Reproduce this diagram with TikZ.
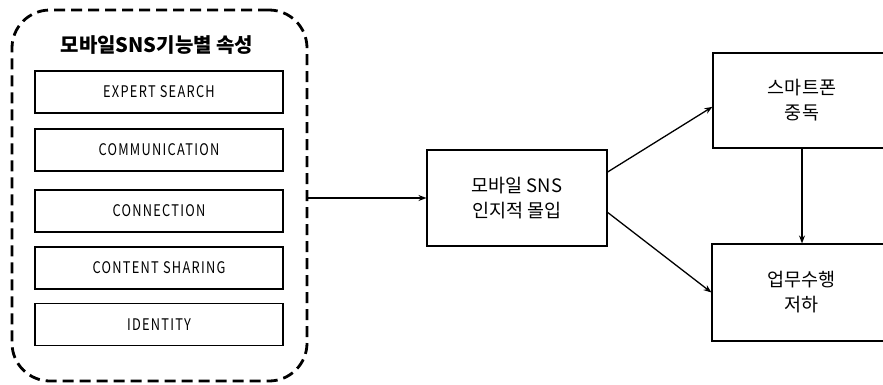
\documentclass[tikz,border=0pt]{standalone}
\usepackage{fontspec}
\setmainfont{Noto Sans CJK KR}
\newfontfamily\engfont[FakeStretch=0.8,LetterSpace=8]{Noto Sans CJK KR}
\usetikzlibrary{arrows.meta}
\begin{document}
\begin{tikzpicture}[x=1pt,y=-1pt,
  attrbox/.style={draw=black,line width=1.1pt,minimum width=248pt,minimum height=42pt,inner sep=0pt,font=\engfont\fontsize{16}{18}\selectfont},
  mainbox/.style={draw=black,line width=1.1pt,inner sep=0pt,align=center,font=\fontsize{18.5}{25}\selectfont},
  arr/.style={line width=1.3pt,-{Stealth[length=8pt,width=6pt]}},
  group/.style={draw=black,line width=2.8pt,dash pattern=on 11pt off 6pt,rounded corners=38pt,minimum width=295pt,minimum height=371pt,inner sep=0pt}
]
\clip (0,0) rectangle (883,384);
\fill[white] (0,0) rectangle (883,384);
\node[group] (grp) at (159.5,195.5) {};
\node[font=\bfseries\fontsize{20}{24}\selectfont] (title) at (157,45) {모바일SNS기능별 속성};
\node[attrbox] (a1) at (159,92) {EXPERT SEARCH};
\node[attrbox] (a2) at (159,150) {COMMUNICATION};
\node[attrbox] (a3) at (159,211) {CONNECTION};
\node[attrbox] (a4) at (159,268) {CONTENT SHARING};
\node[attrbox] (a5) at (159,324.5) {IDENTITY};
\node[mainbox,minimum width=180pt,minimum height=96pt] (mid) at (517,198) {모바일 SNS\\인지적 몰입};
\node[mainbox,minimum width=178pt,minimum height=95pt] (top) at (802,100.5) {스마트폰\\중독};
\node[mainbox,minimum width=179pt,minimum height=97pt] (bot) at (801.5,292.5) {업무수행\\저하};
\draw[arr] (grp.east |- mid.west) -- (mid.west);
\draw[arr] (mid.16) -- (top.184);
\draw[arr] (mid.-9) -- (bot.west);
\draw[arr] (top.south) -- (top.south |- bot.north);
\end{tikzpicture}
\end{document}
